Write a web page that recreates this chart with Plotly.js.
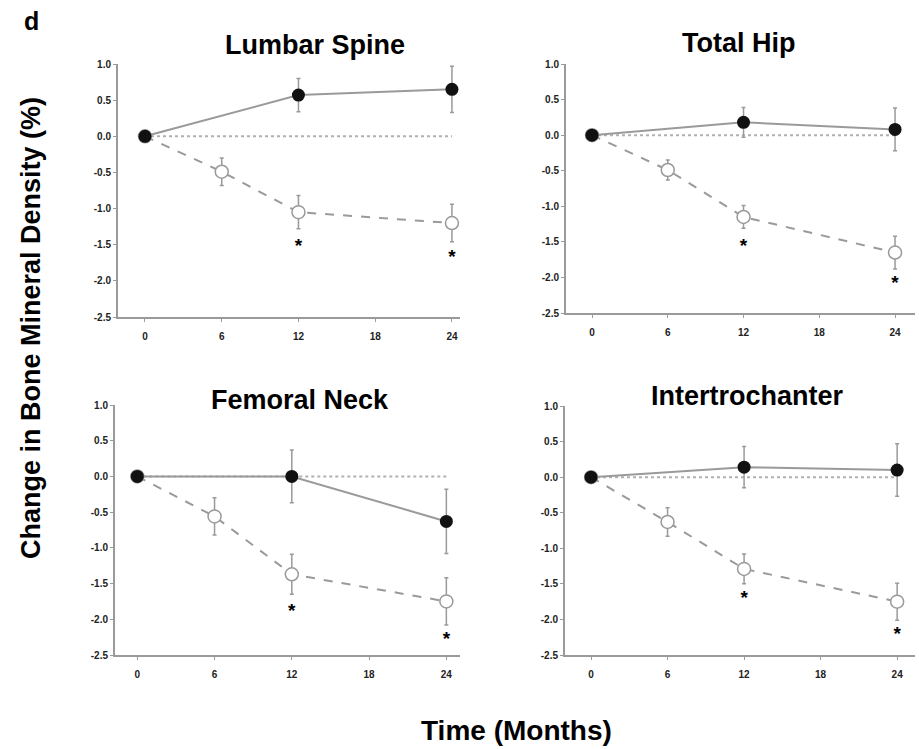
<!DOCTYPE html>
<html><head><meta charset="utf-8">
<script src="https://cdn.plot.ly/plotly-3.0.1.min.js"></script>
<style>body{margin:0;background:#fff}#c{width:919px;height:749px}</style>
</head><body><div id="c"></div>
<script>
// Months
var months = [0, 6, 12, 24];
var monthsFilled = [0, 12, 24];
var xTicks = [0, 6, 12, 18, 24];
var yTicks = [1.0, 0.5, 0.0, -0.5, -1.0, -1.5, -2.0, -2.5];
var yTickText = ['1.0', '0.5', '0.0', '-0.5', '-1.0', '-1.5', '-2.0', '-2.5'];
var panelTitles = ['Lumbar Spine', 'Total Hip', 'Femoral Neck', 'Intertrochanter'];

// Filled circles (at 0, 12, 24)
var lumbarFilled = [0, 0.57, 0.65];
var lumbarFilledErr = [0, 0.23, 0.32];
var hipFilled = [0, 0.18, 0.08];
var hipFilledErr = [0, 0.21, 0.30];
var neckFilled = [0, 0.0, -0.63];
var neckFilledErr = [0, 0.37, 0.45];
var interFilled = [0, 0.14, 0.10];
var interFilledErr = [0, 0.29, 0.37];

// Open circles (at 0, 6, 12, 24)
var lumbarOpen = [0, -0.49, -1.05, -1.20];
var lumbarOpenErr = [0, 0.19, 0.23, 0.26];
var hipOpen = [0, -0.49, -1.15, -1.65];
var hipOpenErr = [0, 0.14, 0.16, 0.23];
var neckOpen = [0, -0.56, -1.37, -1.75];
var neckOpenErr = [0, 0.26, 0.28, 0.33];
var interOpen = [0, -0.63, -1.29, -1.75];
var interOpenErr = [0, 0.20, 0.21, 0.26];

// Significance asterisks (months 12 and 24)
var starMonths = [12, 24];
var lumbarStars = [-1.53, -1.69];
var hipStars = [-1.57, -2.10];
var neckStars = [-1.90, -2.30];
var interStars = [-1.72, -2.22];

// Reference line at zero
var refX = [0, 24];
var refY = [0, 0];

var panels = [
  {f: lumbarFilled, fe: lumbarFilledErr, o: lumbarOpen, oe: lumbarOpenErr, s: lumbarStars},
  {f: hipFilled, fe: hipFilledErr, o: hipOpen, oe: hipOpenErr, s: hipStars},
  {f: neckFilled, fe: neckFilledErr, o: neckOpen, oe: neckOpenErr, s: neckStars},
  {f: interFilled, fe: interFilledErr, o: interOpen, oe: interOpenErr, s: interStars}
];

var W = 919, H = 749;
function px2x(a, b) { return [a / W, b / W]; }
function px2y(top, bot) { return [1 - bot / H, 1 - top / H]; }
var geo = [
  {xd: px2x(118, 460), yd: px2y(64, 317), xr: [-2.11, 24.63], tx: 315, ty: 45},
  {xd: px2x(566, 915), yd: px2y(64, 313), xr: [-2.06, 25.58], tx: 738, ty: 43},
  {xd: px2x(115, 460), yd: px2y(405, 655), xr: [-1.73, 25.06], tx: 300, ty: 400},
  {xd: px2x(565, 915), yd: px2y(406, 655), xr: [-2.04, 25.4], tx: 747, ty: 396}
];

var gray = '#9a9a9a';
var fontFam = 'Liberation Sans, Arial, sans-serif';
var traces = [];
var layout = {
  width: W, height: H, margin: {l: 0, r: 0, t: 0, b: 0},
  paper_bgcolor: '#fff', plot_bgcolor: 'rgba(0,0,0,0)', showlegend: false,
  font: {family: fontFam, color: '#000'},
  annotations: [], shapes: []
};

panels.forEach(function (p, i) {
  var n = i + 1;
  var xa = 'x' + (n === 1 ? '' : n), ya = 'y' + (n === 1 ? '' : n);
  traces.push({x: refX, y: refY, xaxis: xa, yaxis: ya, mode: 'lines',
    line: {color: '#b0b0b0', width: 2, dash: 'dot'}, hoverinfo: 'skip'});
  traces.push({x: months, y: p.o, xaxis: xa, yaxis: ya, mode: 'lines+markers',
    line: {color: gray, width: 2, dash: 'dash'},
    marker: {symbol: 'circle', size: 13, color: '#fff', line: {color: gray, width: 1.5}},
    error_y: {type: 'data', array: p.oe, color: gray, thickness: 1.5, width: 2}});
  traces.push({x: monthsFilled, y: p.f, xaxis: xa, yaxis: ya, mode: 'lines+markers',
    line: {color: gray, width: 2},
    marker: {symbol: 'circle', size: 13, color: '#111'},
    error_y: {type: 'data', array: p.fe, color: gray, thickness: 1.5, width: 2}});
  traces.push({x: starMonths, y: p.s, xaxis: xa, yaxis: ya, mode: 'text',
    text: ['*', '*'], textfont: {size: 19, color: '#000', weight: 'bold'}, hoverinfo: 'skip'});

  var g = geo[i];
  layout['xaxis' + (n === 1 ? '' : n)] = {
    domain: g.xd, range: g.xr, anchor: ya, tickvals: xTicks, ticktext: xTicks.map(String),
    showgrid: false, zeroline: false, showline: true, linecolor: gray, linewidth: 2,
    ticks: 'outside', ticklen: 3, tickcolor: gray, ticklabelstandoff: 6,
    tickfont: {size: 10, weight: 'bold', color: '#222'}, fixedrange: true
  };
  layout['yaxis' + (n === 1 ? '' : n)] = {
    domain: g.yd, range: [-2.5, 1.0], anchor: xa, tickvals: yTicks, ticktext: yTickText,
    showgrid: false, zeroline: false, showline: true, linecolor: gray, linewidth: 2,
    ticks: 'outside', ticklen: 3, tickcolor: gray,
    tickfont: {size: 10, weight: 'bold', color: '#222'}, fixedrange: true
  };
  layout.annotations.push({text: '<b>' + panelTitles[i] + '</b>', xref: 'paper', yref: 'paper',
    x: g.tx / W, y: 1 - g.ty / H, xanchor: 'center', yanchor: 'middle',
    showarrow: false, font: {size: 27, color: '#000'}});
});

layout.annotations.push({text: '<b>Change in Bone Mineral Density (%)</b>', xref: 'paper', yref: 'paper',
  x: 31 / W, y: 1 - 328 / H, textangle: -90, showarrow: false, xanchor: 'center', yanchor: 'middle',
  font: {size: 27, color: '#000'}});
layout.annotations.push({text: '<b>Time (Months)</b>', xref: 'paper', yref: 'paper',
  x: 516 / W, y: 1 - 730 / H, showarrow: false, xanchor: 'center', yanchor: 'middle',
  font: {size: 28, color: '#000'}});
layout.annotations.push({text: '<b>d</b>', xref: 'paper', yref: 'paper',
  x: 31 / W, y: 1 - 21 / H, showarrow: false, xanchor: 'center', yanchor: 'middle',
  font: {size: 25, color: '#000'}});

Plotly.newPlot('c', traces, layout, {displayModeBar: false, staticPlot: true});
</script></body></html>
